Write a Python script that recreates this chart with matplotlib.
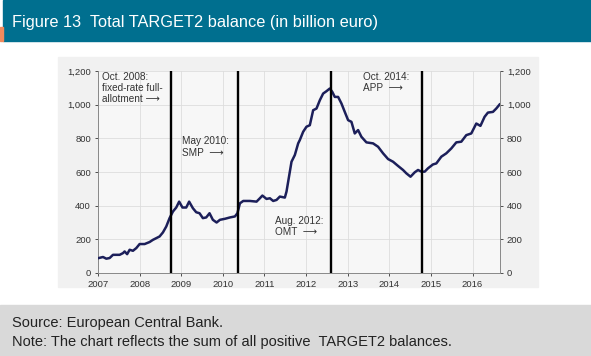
import matplotlib
matplotlib.use('Agg')
import matplotlib.pyplot as plt
from matplotlib.patches import Rectangle

plt.rcParams['font.family'] = ['Liberation Sans', 'DejaVu Sans']

# TARGET2 balance (decimal year, billion euro)
years = [2007.02, 2007.12, 2007.20, 2007.28, 2007.36, 2007.52, 2007.60, 2007.64, 2007.70, 2007.76,
         2007.84, 2007.92, 2008.00, 2008.12, 2008.24, 2008.32, 2008.40, 2008.48, 2008.56, 2008.64,
         2008.72, 2008.80, 2008.88, 2008.95, 2009.03, 2009.12, 2009.19, 2009.28, 2009.36, 2009.44,
         2009.52, 2009.60, 2009.68, 2009.76, 2009.85, 2009.93, 2010.05, 2010.17, 2010.29, 2010.35,
         2010.41, 2010.49, 2010.65, 2010.81, 2010.89, 2010.95, 2011.05, 2011.13, 2011.21, 2011.29,
         2011.37, 2011.49, 2011.53, 2011.57, 2011.65, 2011.73, 2011.81, 2011.85, 2011.93, 2012.01,
         2012.09, 2012.17, 2012.25, 2012.33, 2012.41, 2012.49, 2012.57, 2012.63, 2012.69, 2012.77,
         2012.85, 2012.93, 2013.01, 2013.09, 2013.17, 2013.25, 2013.33, 2013.45, 2013.61, 2013.73,
         2013.85, 2013.97, 2014.09, 2014.21, 2014.33, 2014.41, 2014.51, 2014.61, 2014.69, 2014.77,
         2014.85, 2014.93, 2015.05, 2015.13, 2015.25, 2015.37, 2015.49, 2015.61, 2015.73, 2015.85,
         2015.97, 2016.09, 2016.19, 2016.29, 2016.37, 2016.49, 2016.57, 2016.65]
balance = [89, 95, 85, 89, 108, 108, 118, 128, 112, 138,
           132, 148, 172, 172, 184, 197, 207, 217, 241, 276,
           326, 365, 389, 424, 389, 389, 424, 385, 361, 355,
           326, 330, 355, 316, 300, 316, 322, 330, 336, 355,
           414, 428, 428, 424, 444, 460, 440, 444, 428, 434,
           454, 448, 484, 543, 661, 701, 770, 790, 839, 869,
           878, 967, 977, 1026, 1066, 1080, 1096, 1076, 1046, 1046,
           1007, 957, 908, 898, 829, 849, 809, 776, 770, 750,
           711, 677, 661, 636, 612, 592, 572, 598, 612, 602,
           602, 622, 645, 651, 691, 711, 740, 776, 780, 819,
           829, 888, 874, 928, 953, 957, 977, 1001]

events = [2008.75, 2010.36, 2012.61, 2014.79]
event_labels = ['Oct. 2008:\nfixed-rate full-\nallotment \u27f6', 'May 2010:\nSMP  \u27f6',
                'Aug. 2012:\nOMT  \u27f6', 'Oct. 2014:\nAPP  \u27f6']
label_pos = [(2007.09, 1195), (2009.02, 812), (2011.25, 338), (2013.36, 1195)]

year_ticks = list(range(2007, 2017))
y_ticks = [0, 200, 400, 600, 800, 1000, 1200]

fig = plt.figure(figsize=(5.91, 3.56), dpi=100)
W, H = 591, 356

def box(x0, y0, x1, y1, color):
    fig.patches.append(Rectangle((x0 / W, 1 - y1 / H), (x1 - x0) / W, (y1 - y0) / H,
                                 transform=fig.transFigure, color=color, zorder=-10))

box(3, 0, 591, 41, '#006f8f')
box(0, 27, 3, 41, '#f08a5d')
box(58, 57, 538, 287, '#f1f1f1')
box(0, 305, 591, 356, '#d9d9d9')

fig.text(12 / W, 1 - 27 / H, 'Figure 13  Total TARGET2 balance (in billion euro)',
         color='white', fontsize=11.8, va='baseline', ha='left')
fig.text(12 / W, 1 - 327 / H, 'Source: European Central Bank.',
         color='#222222', fontsize=10.5, va='baseline')
fig.text(12 / W, 1 - 346 / H, 'Note: The chart reflects the sum of all positive  TARGET2 balances.',
         color='#222222', fontsize=10.5, va='baseline')

ax = fig.add_axes([98 / W, 1 - 273 / H, (500 - 98) / W, (273 - 71) / H])
ax.set_facecolor('#f7f7f7')
ax.plot(years, balance, color='#1c1f5a', lw=1.8, zorder=3)
for e in events:
    ax.axvline(e, color='black', lw=1.7, zorder=4)
for (x, y), t in zip(label_pos, event_labels):
    ax.text(x, y, t, fontsize=7.2, color='#333333', va='top', ha='left',
            linespacing=1.15, zorder=5)

ax.set_xlim(2007, 2016.66)
ax.set_ylim(0, 1200)
ax.set_xticks(year_ticks)
ax.set_xticklabels([str(y) for y in year_ticks])
ax.set_yticks(y_ticks)
ax.set_yticklabels([f'{v:,}' for v in y_ticks])
ax.tick_params(labelsize=6.8, colors='#333333', length=2, width=0.6, pad=3,
               right=True, labelright=True)
ax.grid(color='#dddddd', lw=0.6, zorder=0)
for s in ['left', 'right', 'bottom']:
    ax.spines[s].set_color('#888888')
    ax.spines[s].set_linewidth(0.7)
ax.spines['top'].set_visible(False)

plt.savefig('out.png', dpi=100)
